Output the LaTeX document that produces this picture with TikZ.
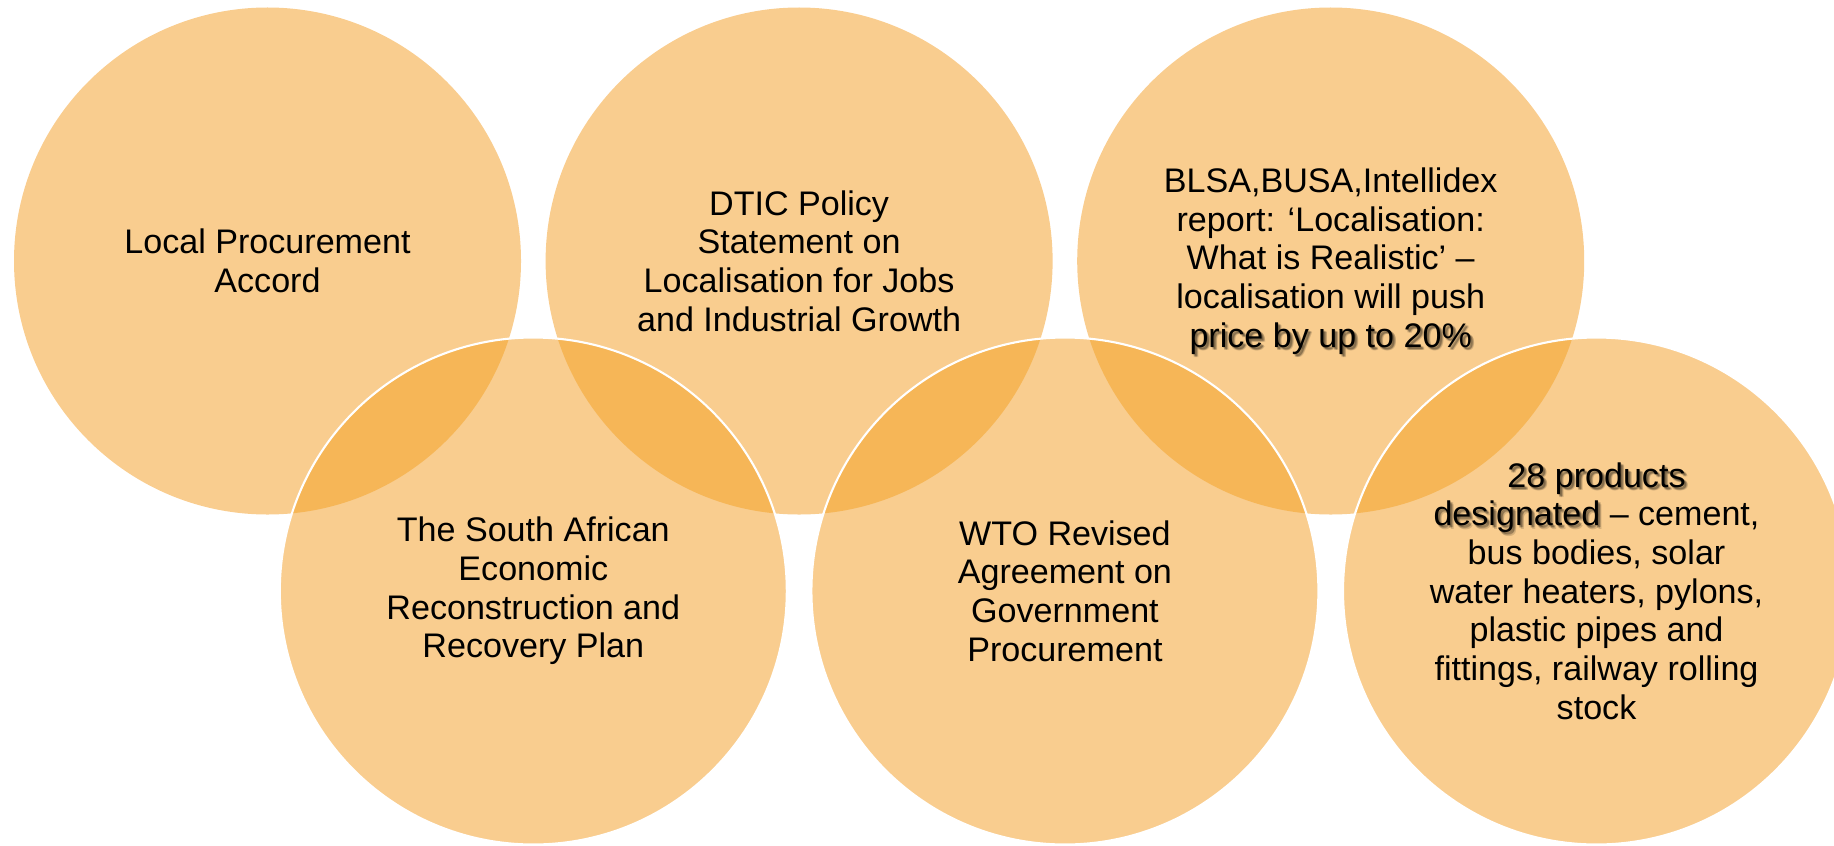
\documentclass[tikz,border=0pt]{standalone}
\usepackage{fontspec}
\setmainfont{Liberation Sans}
\usetikzlibrary{calc}
\definecolor{ringfill}{RGB}{249,205,143}
\definecolor{ringlap}{RGB}{246,182,87}
\begin{document}
\begin{tikzpicture}
  [txt/.style={align=center,inner sep=0pt,
    font=\fontsize{9.7}{11}\selectfont}]
  \def\r{2.535}
  \useasboundingbox (0,0) rectangle (18.34,8.45);
  \clip (0,0) rectangle (18.34,8.45);
  \path
  (2.675,5.84) coordinate (A)
  (5.333,2.54) coordinate (B)
  (7.991,5.84) coordinate (C)
  (10.649,2.54) coordinate (D)
  (13.307,5.84) coordinate (E)
  (15.965,2.54) coordinate (F);
  % tô các hình tròn
  \foreach \p in {A,B,C,D,E,F}
  \fill[ringfill] (\p) circle(\r);
  % phần giao nhau
  \foreach \p/\q in {A/B,C/B,C/D,E/D,E/F}
  {\begin{scope}
    \clip (\p) circle(\r);
    \fill[ringlap] (\q) circle(\r);
  \end{scope}}
  % viền trắng các hình tròn dưới
  \foreach \p in {B,D,F}
  \draw[white,line width=.6pt] (\p) circle(\r);
  % bóng chữ (mờ)
  \foreach \s/\u/\v in {1/.01/-.01,2/.02/-.02,3/.03/-.02,4/.02/-.03,5/.035/-.035}
  {\node[txt,text opacity=.14] (shadowE\s) at ($(E)+(\u,\v)$)
    {\phantom{BLSA,BUSA,Intellidex}\\\phantom{report: ‘Localisation:}\\
     \phantom{What is Realistic’ –}\\\phantom{localisation will push}\\
     price by up to 20\%};
   \node[txt,text opacity=.14] (shadowF\s) at ($(F)+(\u,\v)$)
    {28 products\\designated\phantom{ – cement,}\\
     \phantom{bus bodies, solar}\\\phantom{water heaters, pylons,}\\
     \phantom{plastic pipes and}\\\phantom{fittings, railway rolling}\\
     \phantom{stock}};}
  % chữ
  \node[txt] (accord) at (A) {Local Procurement\\Accord};
  \node[txt] (plan) at (B)
  {The South African\\Economic\\Reconstruction and\\Recovery Plan};
  \node[txt] (dtic) at (C)
  {DTIC Policy\\Statement on\\Localisation for Jobs\\and Industrial Growth};
  \node[txt] (wto) at (D)
  {WTO Revised\\Agreement on\\Government\\Procurement};
  \node[txt] (report) at (E)
  {BLSA,BUSA,Intellidex\\report: ‘Localisation:\\What is Realistic’ –\\
   localisation will push\\price by up to 20\%};
  \node[txt] (products) at (F)
  {28 products\\designated – cement,\\bus bodies, solar\\
   water heaters, pylons,\\plastic pipes and\\fittings, railway rolling\\stock};
\end{tikzpicture}
\end{document}
